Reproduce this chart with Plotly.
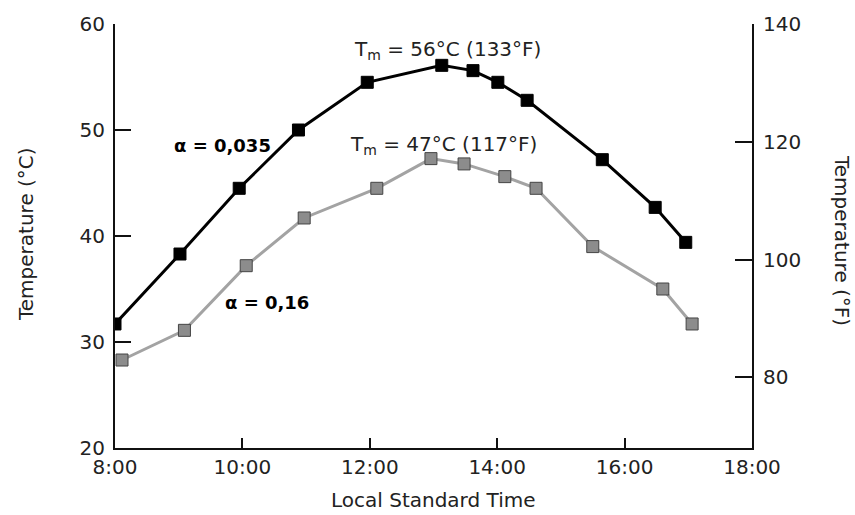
import plotly.graph_objects as go

# Data
hours_low = [8.0, 9.02, 9.95, 10.88, 11.96, 13.13, 13.62, 14.01, 14.47, 15.65, 16.48, 16.96]
temp_low_alb = [31.7, 38.3, 44.5, 50.0, 54.5, 56.1, 55.6, 54.5, 52.8, 47.2, 42.7, 39.4]

hours_high = [8.11, 9.09, 10.06, 10.97, 12.11, 12.96, 13.48, 14.12, 14.61, 15.5, 16.6, 17.06]
temp_high_alb = [28.3, 31.1, 37.2, 41.7, 44.5, 47.3, 46.8, 45.6, 44.5, 39.0, 35.0, 31.7]

x_tickvals = [8, 10, 12, 14, 16, 18]
x_ticktext = ["8:00", "10:00", "12:00", "14:00", "16:00", "18:00"]
yc_tickvals = [20, 30, 40, 50, 60]
yf_tickvals = [80, 100, 120, 140]

FONT = "DejaVu Sans, Verdana, sans-serif"
TXT = "#222222"

X0, X1, Y0, Y1 = 115, 752, 24, 448  # plot area in pixels


def px_to_paper(x, y):
    return (x - X0) / (X1 - X0), 1 - (y - Y0) / (Y1 - Y0)


fig = go.Figure()
fig.add_trace(go.Scatter(
    x=hours_low, y=temp_low_alb, mode="lines+markers",
    line=dict(color="#000000", width=3),
    marker=dict(symbol="square", size=12, color="#000000", line=dict(color="#000000", width=1)),
    showlegend=False, hoverinfo="skip"))
fig.add_trace(go.Scatter(
    x=hours_high, y=temp_high_alb, mode="lines+markers",
    line=dict(color="#a3a3a3", width=3),
    marker=dict(symbol="square", size=12, color="#8c8c8c", line=dict(color="#444444", width=1)),
    showlegend=False, hoverinfo="skip"))
fig.add_trace(go.Scatter(x=[None], y=[None], yaxis="y2", showlegend=False, hoverinfo="skip"))

axis_common = dict(showgrid=False, zeroline=False, showline=True, linecolor="#111", linewidth=2,
                   ticks="inside", tickwidth=2, tickcolor="#111", automargin=False,
                   tickfont=dict(family=FONT, size=20, color=TXT))

fig.update_layout(
    width=855, height=515,
    margin=dict(l=X0, r=855 - X1, t=Y0, b=515 - Y1),
    paper_bgcolor="white", plot_bgcolor="white",
    font=dict(family=FONT, size=20, color=TXT),
    hovermode=False,
    xaxis=dict(range=[8, 18], tickvals=x_tickvals, ticktext=x_ticktext, ticklen=10, **axis_common),
    yaxis=dict(range=[20, 60], tickvals=yc_tickvals, ticklen=16, ticklabelstandoff=4, **axis_common),
    yaxis2=dict(range=[68, 140], tickvals=yf_tickvals, overlaying="y", side="right",
                ticklen=17, ticklabelstandoff=5, **axis_common),
)

annots = [
    dict(x=447, y=50, text="T<sub>m</sub> = 56°C (133°F)", size=20, color=TXT, angle=0),
    dict(x=443, y=145, text="T<sub>m</sub> = 47°C (117°F)", size=20, color=TXT, angle=0),
    dict(x=222, y=145, text="<b>α = 0,035</b>", size=18, color="#000000", angle=0),
    dict(x=267, y=302, text="<b>α = 0,16</b>", size=18, color="#000000", angle=0),
    dict(x=433, y=500, text="Local Standard Time", size=20, color=TXT, angle=0),
    dict(x=26, y=234, text="Temperature (°C)", size=20, color=TXT, angle=-90),
    dict(x=842, y=240, text="Temperature (°F)", size=20, color=TXT, angle=90),
]
for a in annots:
    px, py = px_to_paper(a["x"], a["y"])
    fig.add_annotation(
        x=px, y=py, xref="paper", yref="paper", text=a["text"], showarrow=False,
        xanchor="center", yanchor="middle", textangle=a["angle"],
        font=dict(family=FONT, size=a["size"], color=a["color"]))

fig.write_html("out.html", config={"displayModeBar": False},
               post_script="document.body.style.margin='0';document.body.style.overflow='hidden';")
